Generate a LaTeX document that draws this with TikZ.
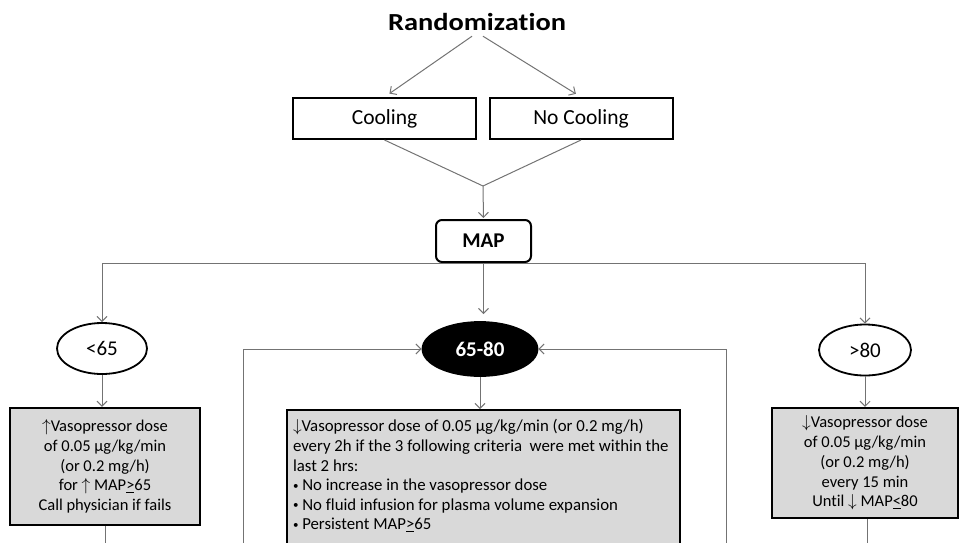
\documentclass[tikz,border=0pt]{standalone}
\usepackage{fontspec}
\setmainfont{Carlito}[Ligatures=NoCommon]
\newfontfamily\titlefont[FakeStretch=1.16,Ligatures=NoCommon]{Carlito}
\usetikzlibrary{arrows.meta,shapes.geometric}
\newcommand{\smallbullet}{{\fontsize{11}{11}\selectfont\raisebox{1.5pt}{•}}}
\begin{document}
\begin{tikzpicture}[x=1pt,y=-1pt,
  conn/.style={draw=black!55, line width=1pt},
  arr/.style={conn, -{Straight Barb[length=5pt,width=10pt]}},
  topbox/.style={draw=black, line width=2pt, minimum width=183pt, minimum height=41pt, inner sep=0pt, font=\fontsize{21.5}{25}\selectfont},
  oval/.style={ellipse, draw=black, line width=1.8pt, inner sep=0pt, font=\fontsize{21}{25}\selectfont},
  gbox/.style={draw=black, line width=2.2pt, fill=black!15, inner sep=0pt, align=center, font=\fontsize{16.5}{19.7}\selectfont},
]
\useasboundingbox (0,0) rectangle (959,542);
\clip (0,0) rectangle (959,542);

\node[font=\titlefont\bfseries\fontsize{24.5}{28}\selectfont] (rand) at (477,22) {Randomization};
\node[topbox] (cool) at (384.5,118.5) {Cooling};
\node[topbox] (nocool) at (581,118.5) {No Cooling};
\coordinate (join) at (483,186);
\node[draw=black, line width=2pt, rounded corners=6pt, minimum width=95pt, minimum height=42pt, inner sep=0pt, font=\bfseries\fontsize{21}{25}\selectfont] (map) at (483.5,241) {MAP};

\node[oval, minimum width=90pt, minimum height=51pt] (lo) at (102,348.5) {<65};
\node[oval, fill=black, text=white, minimum width=115pt, minimum height=54pt, font=\bfseries\fontsize{21}{25}\selectfont] (mo) at (480,349) {65-80};
\node[oval, minimum width=92pt, minimum height=51pt] (ro) at (865,350) {>80};

\node[gbox, minimum width=190pt, minimum height=117pt] (lb) at (105,466.5)
  {$\uparrow$Vasopressor dose\\ of 0.05 µg/kg/min\\ (or 0.2 mg/h)\\ for $\uparrow$ MAP\underline{>}65\\ Call physician if fails};
\node[gbox, minimum width=186pt, minimum height=110pt] (rb) at (865,463)
  {$\downarrow$Vasopressor dose\\ of 0.05 µg/kg/min\\ (or 0.2 mg/h)\\ every 15 min\\ Until $\downarrow$ MAP\underline{<}80};
\node[gbox, anchor=north, align=flush left, text width=381pt, inner xsep=6pt, inner ysep=9.5pt, font=\fontsize{16.8}{19.6}\selectfont] (mb) at (483.5,409)
  {$\downarrow$Vasopressor dose of 0.05 µg/kg/min (or 0.2 mg/h)\\
   every 2h if the 3 following criteria\ \ were met within the\\
   last 2 hrs:\\
   \smallbullet\ No increase in the vasopressor dose\\
   \smallbullet\ No fluid infusion for plasma volume expansion\\
   \smallbullet\ Persistent MAP\underline{>}65\rule[-40pt]{0pt}{0pt}};

\coordinate (bot) at (0,548);
\coordinate (lloop) at (243,548);
\coordinate (rloop) at (726,548);

\draw[arr, shorten >=6pt] ([xshift=-5pt,yshift=-2pt]rand.south) -- (cool.north);
\draw[arr, shorten >=6pt] ([xshift=6pt,yshift=-2pt]rand.south) -- (nocool.north);
\draw[conn] (cool.south) -- (join);
\draw[conn] (nocool.south) -- (join);
\draw[arr, shorten >=1pt] (join) -- (map.north);
\draw[conn] (lo.north |- map.south) -- (ro.north |- map.south);
\draw[arr] (lo.north |- map.south) -- (lo.north);
\draw[arr] (ro.north |- map.south) -- (ro.north);
\draw[arr, shorten >=7pt] (map.south) -- (map.south |- mo.north);
\draw[arr] (lo.south) -- (lo.south |- lb.north);
\draw[arr] (ro.south) -- (ro.south |- rb.north);
\draw[arr] (mo.south) -- (mo.south |- mb.north);
\draw[arr] (lloop) |- (mo.west);
\draw[arr] (rloop) |- (mo.east);
\draw[conn] (lb.south) -- (lb.south |- bot);
\draw[conn] ([xshift=2pt]rb.south) -- ([xshift=2pt]rb.south |- bot);
\end{tikzpicture}
\end{document}
